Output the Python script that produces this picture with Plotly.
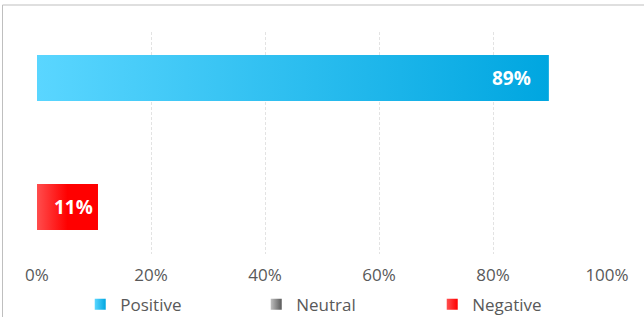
import plotly.graph_objects as go

categories = ["Positive", "Neutral", "Negative"]
values = [0.898, 0.0, 0.107]
labels = ["89%", "", "11%"]
gradients = [
    [[0, "#5AD6FF"], [1, "#00A6E0"]],
    [[0, "#A6A6A6"], [1, "#595959"]],
    [[0, "#FF4D4D"], [0.5, "#FF0000"], [1, "#FF0000"]],
]
legend_colors = [("#5AD6FF", "#00A6E0"), ("#BFBFBF", "#595959"), ("#FF5050", "#FF0000")]
label_shift = [-16, 0, -3]
tick_vals = [0, 0.2, 0.4, 0.6, 0.8, 1.0]
tick_text = ["0%", "20%", "40%", "60%", "80%", "100%"]

bar_width = 0.713
FONT = "Open Sans"

fig = go.Figure()
for i, (cat, v, grad) in enumerate(zip(categories, values, gradients)):
    y0, y1 = i - bar_width / 2, i + bar_width / 2
    fig.add_trace(go.Scatter(
        x=[0, v, v, 0, 0], y=[y0, y0, y1, y1, y0],
        fill="toself", mode="lines", line=dict(width=0),
        fillgradient=dict(type="horizontal", colorscale=grad),
        name=cat, hoverinfo="skip", showlegend=False,
    ))
    if labels[i]:
        fig.add_annotation(x=v, y=i, text=f"<b>{labels[i]}</b>", showarrow=False,
                           xanchor="right", xshift=label_shift[i],
                           font=dict(family=FONT, size=19, color="white"))

# legend entries
for cat, (c0, c1) in zip(categories, legend_colors):
    fig.add_trace(go.Scatter(
        x=[None], y=[None], mode="markers", name=cat,
        marker=dict(symbol="square", size=11, color=c0,
                    gradient=dict(type="horizontal", color=c1),
                    line=dict(width=0)),
    ))

fig.update_layout(
    width=644, height=317,
    margin=dict(l=37, r=37, t=32, b=63, autoexpand=False),
    paper_bgcolor="white", plot_bgcolor="white",
    showlegend=True,
    legend=dict(orientation="h", x=0.539, xanchor="center", y=-0.147, yanchor="top",
                font=dict(family=FONT, size=17, color="#595959"),
                entrywidth=131, entrywidthmode="pixels", itemwidth=30,
                tracegroupgap=0),
    xaxis=dict(range=[0, 1], tickvals=tick_vals, ticktext=tick_text,
               showgrid=True, gridcolor="#E3E3E3", griddash="3px,2px", gridwidth=1,
               zeroline=False, showline=False, ticks="", ticklabelstandoff=9,
               tickfont=dict(family=FONT, size=17, color="#595959")),
    yaxis=dict(range=[2.729, -0.713], showgrid=False, zeroline=False,
               showticklabels=False, ticks="", showline=False),
    shapes=[dict(type="rect", xref="paper", yref="paper",
                 x0=-0.0605, x1=1.2, y0=-0.5, y1=1.1216,
                 line=dict(color="#BFBFBF", width=1), fillcolor="rgba(0,0,0,0)", layer="below")],
)

fig.write_html("out.html", config={"displayModeBar": False},
               post_script="document.body.style.margin='0';")
